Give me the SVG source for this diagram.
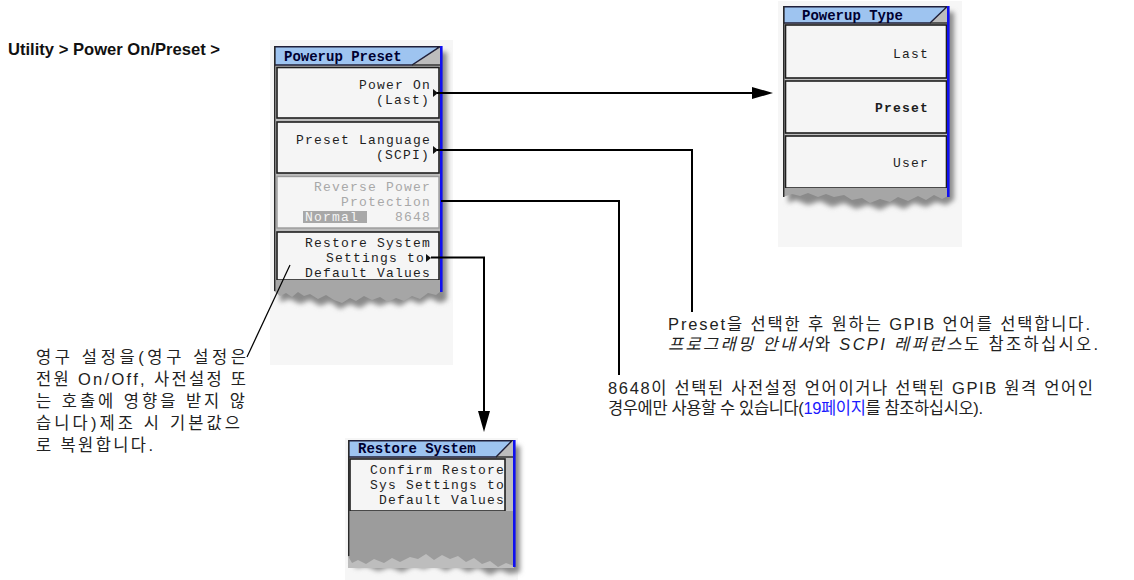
<svg xmlns="http://www.w3.org/2000/svg" width="1134" height="580" viewBox="0 0 1134 580">
<style>
.pbg{fill:#f6f6f6}
.body{fill:#bdbdbd}
.sk{fill:#f5f5f5;stroke:#1e1e1e;stroke-width:1.6}
.skg{fill:#f5f5f5;stroke:#9a9a9a;stroke-width:1.4}
.title{fill:#9ec4f0;stroke:#20203a;stroke-width:1.4}
.ttl{font-family:'Liberation Mono',monospace;font-weight:bold;font-size:14px;fill:#000030}
.mono{font-family:'Liberation Mono','DejaVu Sans Mono',monospace;font-size:13px;letter-spacing:1.2px;fill:#1e1e1e}
.grey{fill:#a8a8a8}
.torn{fill:#a6a6a6}
.blue{stroke:#1010f0;stroke-width:2.6}
.edge{stroke:#2a2a2a;stroke-width:1.4}
.tri{fill:#111}
.conn{fill:none;stroke:#000;stroke-width:2}
.kr{font-family:'Liberation Sans','Noto Sans CJK KR',sans-serif;font-size:16.5px;fill:#222}
.hdr{font-family:'Liberation Sans Narrow','Liberation Sans',sans-serif;font-weight:bold;font-size:17px;fill:#111}
</style>
<defs>
<marker id="ah" markerUnits="userSpaceOnUse" markerWidth="21" markerHeight="12" refX="0" refY="6" orient="auto">
<path d="M0,0 L21,6 L0,12 z" fill="#000"/>
</marker>
<filter id="sh" x="-20%" y="-20%" width="140%" height="140%"><feGaussianBlur stdDeviation="2.5"/></filter>
</defs>
<rect width="1134" height="580" fill="#ffffff"/>

<text class="hdr" x="8" y="55" textLength="212" lengthAdjust="spacingAndGlyphs">Utility &gt; Power On/Preset &gt;</text>

<g id="powerup-preset">
<rect class="pbg" x="270" y="40" width="183" height="325"/>
<path d="M278,52 H447 V300 L440,303 L430,298 L420,304 L410,300 L400,306 L390,302 L380,306 L370,302 L360,308 L350,304 L340,309 L330,302 L320,306 L310,300 L300,304 L290,299 L280,302 Z" fill="#8a8a8a" filter="url(#sh)"/>
<rect class="body" x="274" y="46" width="167" height="236"/>
<polygon class="title" points="274.7,46.7 440,46.7 412,65 274.7,65"/>
<line class="edge" x1="412" y1="65" x2="441" y2="65"/>
<text class="ttl" x="284" y="61">Powerup Preset</text>
<rect class="sk" x="277" y="67.5" width="162" height="50.5"/>
<rect class="sk" x="277" y="122" width="162" height="51"/>
<rect class="skg" x="277" y="176.5" width="162" height="51.5"/>
<rect class="sk" x="277" y="232" width="162" height="48"/>
<path class="torn" d="M274,280 H441 V291 L436,295 L428,293 L420,299 L412,296 L404,301 L396,298 L388,302 L380,297 L372,300 L364,296 L356,301 L350,298 L342,303 L334,300 L326,295 L318,299 L310,294 L304,296 L298,292 L292,297 L286,293 L280,296 L274,291 Z"/>
<line class="edge" x1="274.7" y1="46" x2="274.7" y2="291"/>
<line class="blue" x1="441.3" y1="46" x2="441.3" y2="292"/>
<text class="mono" text-anchor="end" x="431" y="89">Power On</text>
<text class="mono" text-anchor="end" x="430" y="104">(Last)</text>
<polygon class="tri" points="433,89 438,93 433,97"/>
<text class="mono" text-anchor="end" x="431" y="144">Preset Language</text>
<text class="mono" text-anchor="end" x="430" y="159">(SCPI)</text>
<polygon class="tri" points="433,146 438,150 433,154"/>
<text class="mono" text-anchor="end" x="431" y="191" style="fill:#a8a8a8">Reverse Power</text>
<text class="mono" text-anchor="end" x="431" y="206" style="fill:#a8a8a8">Protection</text>
<rect class="grey" x="303" y="211" width="64" height="12"/>
<text class="mono" x="305" y="221" style="fill:#f5f5f5">Normal</text>
<text class="mono" text-anchor="end" x="431" y="221" style="fill:#a8a8a8">8648</text>
<text class="mono" text-anchor="end" x="431" y="247">Restore System</text>
<text class="mono" text-anchor="end" x="425" y="262">Settings to</text>
<text class="mono" text-anchor="end" x="431" y="277">Default Values</text>
<polygon class="tri" points="426,254 431,258 426,262"/>
</g>

<g id="powerup-type">
<rect class="pbg" x="778" y="1" width="184" height="246"/>
<path d="M788,12 H954 V200 L946,205 L936,202 L926,207 L914,203 L904,209 L892,204 L880,210 L868,205 L856,209 L844,203 L832,207 L820,201 L808,205 L796,200 L788,203 Z" fill="#8a8a8a" filter="url(#sh)"/>
<rect class="body" x="783" y="6" width="165" height="184"/>
<polygon class="title" points="783.7,6.7 947,6.7 930,23 783.7,23"/>
<line class="edge" x1="930" y1="23" x2="948" y2="23"/>
<text class="ttl" x="802" y="19.5">Powerup Type</text>
<rect class="sk" x="785.5" y="25" width="161" height="53"/>
<rect class="sk" x="785.5" y="81" width="161" height="52"/>
<rect class="sk" x="785.5" y="136" width="161" height="52"/>
<path class="torn" d="M783,188 H948 V196 L942,199 L934,195 L926,200 L918,196 L908,201 L898,197 L890,202 L880,199 L870,203 L862,198 L852,200 L844,195 L834,197 L826,194 L818,197 L808,193 L800,196 L792,194 L783,197 Z"/>
<line class="edge" x1="783.7" y1="6" x2="783.7" y2="197"/>
<line class="blue" x1="948.3" y1="6" x2="948.3" y2="197"/>
<text class="mono" text-anchor="end" x="929" y="58">Last</text>
<text class="mono" text-anchor="end" x="929" y="112" font-weight="bold">Preset</text>
<text class="mono" text-anchor="end" x="929" y="167">User</text>
</g>

<g id="restore-system">
<rect class="pbg" x="345" y="438" width="173" height="142"/>
<path d="M352,446 H520 V572 L510,574 L500,570 L490,575 L478,568 L468,572 L456,566 L446,571 L434,565 L424,569 L414,566 L402,572 L390,567 L378,571 L366,566 L356,568 L352,562 Z" fill="#8a8a8a" filter="url(#sh)"/>
<rect class="body" x="348" y="440" width="166" height="128"/>
<polygon class="title" points="348.7,440.7 512,440.7 496,457 348.7,457"/>
<line class="edge" x1="496" y1="457" x2="514" y2="457"/>
<text class="ttl" x="358" y="453">Restore System</text>
<rect class="sk" x="350" y="459" width="155" height="52"/>
<path class="torn" d="M348,511 H514 V566 L506,563 L498,567 L490,561 L482,564 L474,558 L466,562 L458,556 L450,559 L442,555 L434,560 L426,554 L418,559 L410,557 L400,562 L392,558 L384,563 L374,559 L366,564 L358,560 L352,563 L348,556 Z" style="fill:#9c9c9c"/>
<line class="edge" x1="348.7" y1="440" x2="348.7" y2="556"/>
<line class="blue" x1="514.3" y1="440" x2="514.3" y2="567"/>
<text class="mono" text-anchor="end" x="505" y="474">Confirm Restore</text>
<text class="mono" text-anchor="end" x="505" y="489">Sys Settings to</text>
<text class="mono" text-anchor="end" x="505" y="504">Default Values</text>
</g>

<g id="connectors">
<path class="conn" d="M437,93 H752" marker-end="url(#ah)"/>
<path class="conn" d="M437,150 H692 V312"/>
<path class="conn" d="M441,201 H619 V375"/>
<path class="conn" d="M431,257.5 H484 V411" marker-end="url(#ah)"/>
<line x1="290" y1="265" x2="247" y2="357" stroke="#000" stroke-width="1.2"/>
</g>

<g id="notes">
<text class="kr" x="36" y="363" textLength="210" lengthAdjust="spacing">영구 설정을(영구 설정은</text>
<text class="kr" x="36" y="385" textLength="210" lengthAdjust="spacing">전원 On/Off, 사전설정 또</text>
<text class="kr" x="36" y="407" textLength="209" lengthAdjust="spacing">는 호출에 영향을 받지 않</text>
<text class="kr" x="36" y="429" textLength="204" lengthAdjust="spacing">습니다)제조 시 기본값으</text>
<text class="kr" x="36" y="451" textLength="117" lengthAdjust="spacing">로 복원합니다.</text>
<text class="kr" x="668" y="330" textLength="422" lengthAdjust="spacing">Preset을 선택한 후 원하는 GPIB 언어를 선택합니다.</text>
<text class="kr" x="668" y="350" textLength="430" lengthAdjust="spacing"><tspan font-style="italic">프로그래밍 안내서</tspan>와 <tspan font-style="italic">SCPI 레퍼런스</tspan>도 참조하십시오.</text>
<text class="kr" x="608" y="394" textLength="485" lengthAdjust="spacing">8648이 선택된 사전설정 언어이거나 선택된 GPIB 원격 언어인</text>
<text class="kr" x="608" y="414" textLength="375" lengthAdjust="spacing">경우에만 사용할 수 있습니다(<tspan fill="#1a1aff">19페이지</tspan>를 참조하십시오).</text>
</g>
</svg>
